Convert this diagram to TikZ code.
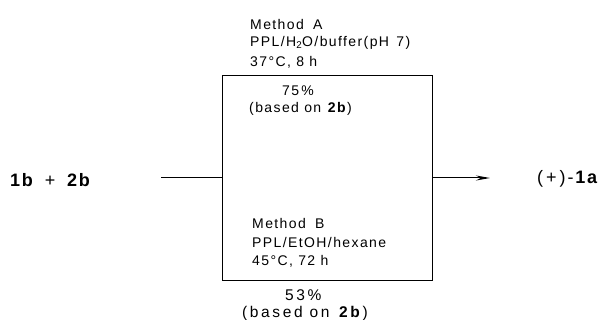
\documentclass[tikz,border=0pt]{standalone}
\usepackage{fontspec}
\setmainfont{Liberation Sans}[LetterSpace=10]
\usetikzlibrary{arrows.meta}
\begin{document}
\begin{tikzpicture}[x=1pt,y=-1pt,
  lbl/.style={anchor=west,inner sep=0pt,font=\fontsize{14}{16}\selectfont},
  lblb/.style={anchor=west,inner sep=0pt,font=\fontsize{15.5}{17}\selectfont\addfontfeature{LetterSpace=17}},
  big/.style={anchor=west,inner sep=0pt,font=\fontsize{18}{20}\selectfont},
  wire/.style={line width=1pt}]
\useasboundingbox (0,0) rectangle (601,320);
\node[draw,line width=1pt,minimum width=210pt,minimum height=204pt,inner sep=0pt] (box) at (327,178) {};
\node[big] (re) at (10,180) {\textbf{1b}\hspace{10pt}+\hspace{10pt}\textbf{2b}};
\node[big] (pr) at (537,179) {(\,+\,)-\textbf{1a}};
\coordinate (in) at (161,178);
\coordinate (out) at (490,178);
\draw[wire] (in) -- (box.west);
\draw[wire,-{Stealth[length=14pt,width=5pt]}] (box.east) -- (out);
\node[lbl] (ma) at (250,24) {Method\hspace{4pt} A};
\node[lbl] (ca) at (250,43) {PPL/H\textsubscript{2}O/buffer(pH\hspace{2pt} 7)};
\node[lbl] (ta) at (250,62) {37°C, 8 h};
\node[lbl] (ya) at (282,91) {75\,\%};
\node[lbl] (ba) at (249,109) {(based on \textbf{2b})};
\node[lbl] (mb) at (252,223) {Method\hspace{4pt} B};
\node[lbl] (cb) at (252,242) {PPL/EtOH/hexane};
\node[lbl] (tb) at (252,261) {45°C, 72 h};
\node[lblb] (yb) at (285,295) {53\,\%};
\node[lblb] (bb) at (242,313) {(based on \textbf{2b})};
\end{tikzpicture}
\end{document}
